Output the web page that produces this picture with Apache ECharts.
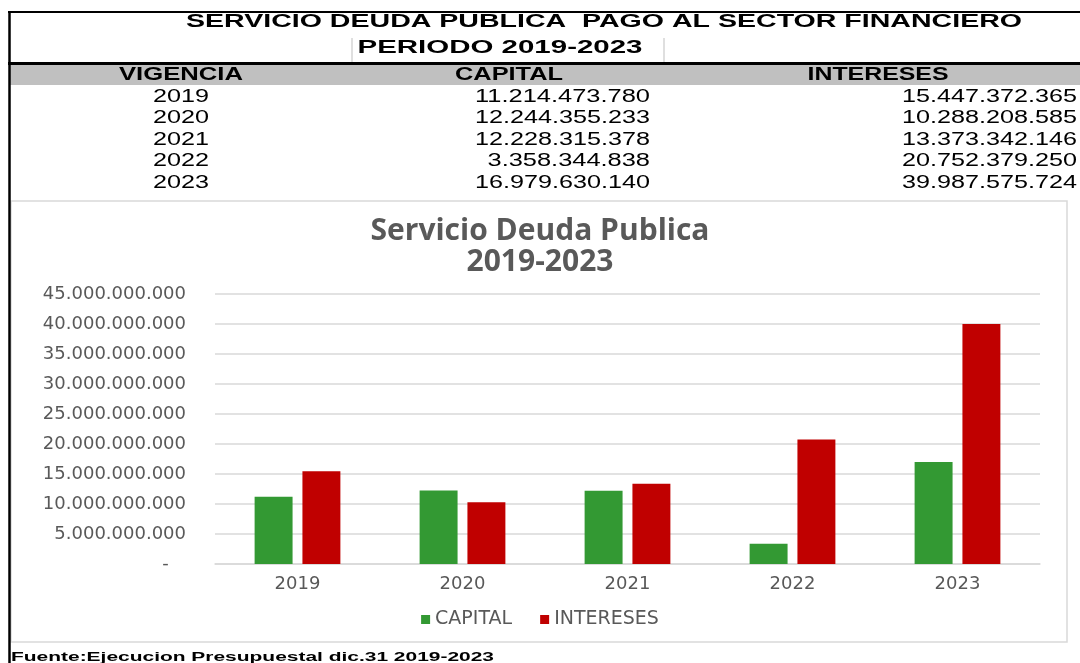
<!DOCTYPE html>
<html>
<head>
<meta charset="utf-8">
<script src="https://cdn.jsdelivr.net/npm/echarts@6/dist/echarts.min.js"></script>
<style>
  html, body { margin: 0; padding: 0; background: #fff; }
  #chart { width: 1080px; height: 663px; }
</style>
</head>
<body>
<div id="chart"></div>
<script>
// Servicio de la deuda pública, pago al sector financiero, 2019-2023
const years = ['2019', '2020', '2021', '2022', '2023'];
const capital = [11214473780, 12244355233, 12228315378, 3358344838, 16979630140];
const intereses = [15447372365, 10288208585, 13373342146, 20752379250, 39987575724];
const seriesNames = ['CAPITAL', 'INTERESES'];
const tableTitle = 'SERVICIO DEUDA PUBLICA  PAGO AL SECTOR FINANCIERO';
const tablePeriod = 'PERIODO 2019-2023';
const tableHeaders = ['VIGENCIA', 'CAPITAL', 'INTERESES'];
const chartTitle = 'Servicio Deuda Publica\n2019-2023';
const sourceNote = 'Fuente:Ejecucion Presupuestal dic.31 2019-2023';

// thousands separated with dots
const fmt = v => String(v).replace(/\B(?=(\d{3})+(?!\d))/g, '.');

// widen spreadsheet text so it fills its column span
const measureCtx = document.createElement('canvas').getContext('2d');
function stretch(text, font, width) {
  measureCtx.font = font;
  return width / measureCtx.measureText(text).width;
}

const SHEET_FONT = '"Liberation Sans", Arial, sans-serif';
function sheetText(text, x, y, opts) {
  const weight = opts.bold ? 'bold' : 'normal';
  const size = opts.size || 18;
  const font = weight + ' ' + size + 'px ' + SHEET_FONT;
  return {
    type: 'text',
    x: x,
    y: y,
    scaleX: stretch(text, font, opts.width),
    z: 10,
    style: {
      text: text,
      fontFamily: SHEET_FONT,
      fontSize: size,
      fontWeight: weight,
      fill: '#000',
      align: opts.align || 'center',
      verticalAlign: 'middle'
    }
  };
}

const graphics = [
  // frame of the chart object
  { type: 'rect', z: 0, shape: { x: 11, y: 201, width: 1056, height: 441 },
    style: { fill: 'none', stroke: '#d9d9d9', lineWidth: 1.5 } },
  // sheet borders and header band
  { type: 'rect', z: 1, shape: { x: 10, y: 65, width: 1070, height: 20 }, style: { fill: '#c0c0c0' } },
  { type: 'line', z: 2, shape: { x1: 8, y1: 12, x2: 1080, y2: 12 }, style: { stroke: '#000', lineWidth: 2 } },
  { type: 'line', z: 2, shape: { x1: 8, y1: 63.5, x2: 1080, y2: 63.5 }, style: { stroke: '#000', lineWidth: 3 } },
  { type: 'line', z: 2, shape: { x1: 9.5, y1: 11, x2: 9.5, y2: 663 }, style: { stroke: '#000', lineWidth: 2.5 } },
  { type: 'line', z: 2, shape: { x1: 352, y1: 38, x2: 352, y2: 62 }, style: { stroke: '#d4d4d4', lineWidth: 1.5 } },
  { type: 'line', z: 2, shape: { x1: 664, y1: 38, x2: 664, y2: 62 }, style: { stroke: '#d4d4d4', lineWidth: 1.5 } },
  sheetText(tableTitle, 604, 22, { bold: true, width: 836 }),
  sheetText(tablePeriod, 500, 48, { bold: true, width: 285 }),
  sheetText(tableHeaders[0], 181, 75, { bold: true, width: 124 }),
  sheetText(tableHeaders[1], 509, 75, { bold: true, width: 108 }),
  sheetText(tableHeaders[2], 878, 75, { bold: true, width: 141 }),
  sheetText(sourceNote, 11, 658, { bold: true, size: 12, width: 483, align: 'left' })
];

const rowY = [97, 118.5, 140, 161.5, 183];
years.forEach((yr, i) => {
  graphics.push(sheetText(yr, 181, rowY[i], { width: 56 }));
  const c = fmt(capital[i]);
  const it = fmt(intereses[i]);
  graphics.push(sheetText(c, 650, rowY[i], { width: 175 * c.length / 14, align: 'right' }));
  graphics.push(sheetText(it, 1077, rowY[i], { width: 175 * it.length / 14, align: 'right' }));
});

const AXIS_FONT = '"DejaVu Sans", sans-serif';
const chart = echarts.init(document.getElementById('chart'), null, { renderer: 'canvas' });
chart.setOption({
  backgroundColor: '#fff',
  animation: false,
  title: {
    text: chartTitle,
    left: 'center',
    top: 216,
    padding: 0,
    textStyle: {
      fontFamily: '"Open Sans", sans-serif',
      fontWeight: 'bold',
      fontSize: 30,
      lineHeight: 31,
      color: '#595959'
    }
  },
  legend: {
    data: seriesNames,
    top: 605,
    left: 'center',
    icon: 'rect',
    itemWidth: 9,
    itemHeight: 9,
    itemGap: 28,
    textStyle: { fontFamily: AXIS_FONT, fontSize: 19, color: '#595959' }
  },
  grid: { left: 215, right: 40, top: 294, bottom: 99, containLabel: false },
  xAxis: {
    type: 'category',
    data: years,
    axisLine: { lineStyle: { color: '#d9d9d9', width: 1.5 } },
    axisTick: { show: false },
    axisLabel: { margin: 11, fontFamily: AXIS_FONT, fontSize: 18, color: '#595959' }
  },
  yAxis: {
    type: 'value',
    min: 0,
    max: 45000000000,
    interval: 5000000000,
    axisLine: { show: false },
    axisTick: { show: false },
    splitLine: { lineStyle: { color: '#d9d9d9', width: 1.5 } },
    axisLabel: {
      margin: 29,
      fontFamily: AXIS_FONT,
      fontSize: 18,
      color: '#595959',
      formatter: v => (v === 0 ? '-   ' : fmt(v))
    }
  },
  series: [
    {
      name: seriesNames[0],
      type: 'bar',
      data: capital,
      barWidth: '23%',
      barGap: '26%',
      itemStyle: { color: '#339933' }
    },
    {
      name: seriesNames[1],
      type: 'bar',
      data: intereses,
      barWidth: '23%',
      barGap: '26%',
      itemStyle: { color: '#C00000' }
    }
  ],
  graphic: graphics
});
</script>
</body>
</html>
